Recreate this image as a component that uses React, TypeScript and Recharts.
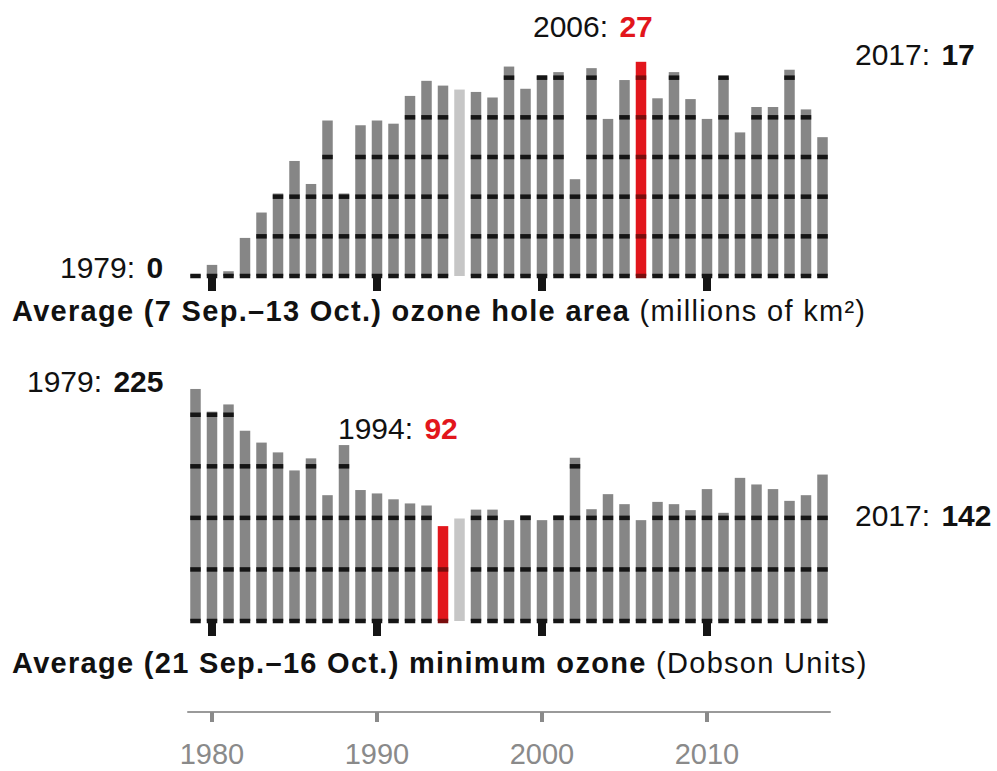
import { BarChart, Bar, XAxis, YAxis } from 'recharts';

// years 1979-2017
const years = [
  1979, 1980, 1981, 1982, 1983, 1984, 1985, 1986, 1987, 1988,
  1989, 1990, 1991, 1992, 1993, 1994, 1995, 1996, 1997, 1998,
  1999, 2000, 2001, 2002, 2003, 2004, 2005, 2006, 2007, 2008,
  2009, 2010, 2011, 2012, 2013, 2014, 2015, 2016, 2017,
];

// average ozone hole area, millions of km2
const holeArea = [
  0.1, 1.4, 0.6, 4.8, 8.0, 10.4, 14.5, 11.6, 19.6, 10.4,
  19.0, 19.6, 19.2, 22.7, 24.6, 24.0, 23.5, 23.2, 22.5, 26.4,
  23.6, 25.3, 25.7, 12.2, 26.2, 19.8, 24.7, 27.0, 22.4, 25.7,
  22.3, 19.8, 25.0, 18.1, 21.3, 21.3, 26.0, 21.0, 17.5,
];

// average minimum ozone, Dobson units
const minOzone = [
  225, 203, 210, 184.5, 173, 163.5, 146, 157.7, 122, 170.6,
  127, 123.7, 118, 114, 112, 92, 99.4, 108, 108, 97.8,
  102.6, 97.8, 102.6, 158.3, 108.4, 123, 113.3, 97.8, 115.5, 113.3,
  107.5, 127.9, 104.9, 138.8, 132.4, 127.9, 116.5, 122, 142,
];

const axisYears = [1980, 1990, 2000, 2010];

const RECORD_AREA_YEAR = 2006;
const RECORD_OZONE_YEAR = 1994;
const MISSING_YEAR = 1995;

const GRAY = '#868686';
const LIGHT = '#c6c6c6';
const RED = '#e2161c';
const STRIPE = '#151515';
const DARK_RED = '#7a0d0d';
const FONT = '"Liberation Sans", Arial, Helvetica, sans-serif';

const data = years.map((year, i) => ({ year, area: holeArea[i], ozone: minOzone[i] }));

// bar with dark bands where the grid values cross it
const makeStripedShape = (key: 'area' | 'ozone', step: number, redYear: number) => (props: any) => {
  const { x, y, width, height, payload } = props;
  const value = payload[key];
  const year = payload.year;
  const missing = year === MISSING_YEAR;
  const isRed = year === redYear;
  const base = y + height;
  const ppu = value > 0 ? height / value : 0;
  const bands: number[] = [];
  if (!missing) {
    for (let v = 0; v <= value; v += step) bands.push(base - v * ppu);
  }
  return (
    <g>
      <rect x={x} y={y} width={width} height={height} fill={missing ? LIGHT : isRed ? RED : GRAY} />
      {bands.map((by, i) => (
        <rect key={i} x={x} y={by - 2.25} width={width} height={4.5} fill={isRed ? DARK_RED : STRIPE} />
      ))}
    </g>
  );
};

const DecadeMark = (props: any) => {
  const { x, y, payload } = props;
  if (payload.value % 10 !== 0) return <g />;
  return <rect x={x - 4} y={y} width={8} height={15} fill={STRIPE} />;
};

const YearTick = (props: any) => {
  const { x, y, payload } = props;
  if (!axisYears.includes(payload.value)) return <g />;
  return (
    <g>
      <rect x={x - 2} y={y} width={4} height={10} fill="#8a8a8a" />
      <text x={x} y={y + 52} textAnchor="middle" fontSize={29} fill="#8a8a8a" fontFamily={FONT}>
        {payload.value}
      </text>
    </g>
  );
};

const margins = { left: 187.25, right: 166.25 };

function Note({ left, top, label, value, color }: { left: number; top: number; label: string; value: string; color: string }) {
  return (
    <div style={{ position: 'absolute', left, top, fontSize: 30, lineHeight: '30px', whiteSpace: 'nowrap', color: '#111' }}>
      {label} <b style={{ color, marginLeft: 3 }}>{value}</b>
    </div>
  );
}

const titleStyle = {
  position: 'absolute' as const,
  left: 12,
  fontSize: 29,
  lineHeight: '30px',
  letterSpacing: 1.3,
  whiteSpace: 'nowrap' as const,
  color: '#111',
};

export default function App() {
  return (
    <div style={{ position: 'absolute', left: 0, top: 0, width: 997, height: 771, background: '#fff', fontFamily: FONT, overflow: 'hidden' }}>
      <div style={{ position: 'absolute', left: 0, top: 0 }}>
        <BarChart width={997} height={300} data={data} margin={{ top: 38, bottom: 4, ...margins }}>
          <XAxis dataKey="year" height={20} axisLine={false} tickLine={false} tickSize={0} tickMargin={0} interval={0} tick={<DecadeMark />} />
          <YAxis hide domain={[0, 30]} />
          <Bar dataKey="area" barSize={10.5} shape={makeStripedShape('area', 5, RECORD_AREA_YEAR)} isAnimationActive={false} />
        </BarChart>
      </div>

      <div style={{ position: 'absolute', left: 0, top: 345 }}>
        <BarChart width={997} height={300} data={data} margin={{ top: 28.5, bottom: 4, ...margins }}>
          <XAxis dataKey="year" height={20} axisLine={false} tickLine={false} tickSize={0} tickMargin={0} interval={0} tick={<DecadeMark />} />
          <YAxis hide domain={[0, 240]} />
          <Bar dataKey="ozone" barSize={10.5} shape={makeStripedShape('ozone', 50, RECORD_OZONE_YEAR)} isAnimationActive={false} />
        </BarChart>
      </div>

      <div style={{ position: 'absolute', left: 0, top: 690 }}>
        <BarChart width={997} height={81} data={data} margin={{ top: 0, bottom: 0, ...margins }}>
          <XAxis dataKey="year" height={59} axisLine={{ stroke: '#9a9a9a', strokeWidth: 2 }} tickLine={false} tickSize={0} tickMargin={0} interval={0} tick={<YearTick />} />
          <YAxis hide domain={[0, 30]} />
          <Bar dataKey="area" fill="none" isAnimationActive={false} />
        </BarChart>
      </div>

      <Note left={533} top={12} label="2006:" value="27" color={RED} />
      <Note left={855} top={40} label="2017:" value="17" color="#111" />
      <Note left={60} top={253} label="1979:" value="0" color="#111" />
      <Note left={27} top={367} label="1979:" value="225" color="#111" />
      <Note left={338} top={414} label="1994:" value="92" color={RED} />
      <Note left={855} top={501} label="2017:" value="142" color="#111" />

      <div style={{ ...titleStyle, top: 296 }}>
        <b>Average (7 Sep.–13 Oct.) ozone hole area</b> (millions of km²)
      </div>
      <div style={{ ...titleStyle, top: 648 }}>
        <b>Average (21 Sep.–16 Oct.) minimum ozone</b> (Dobson Units)
      </div>
    </div>
  );
}
